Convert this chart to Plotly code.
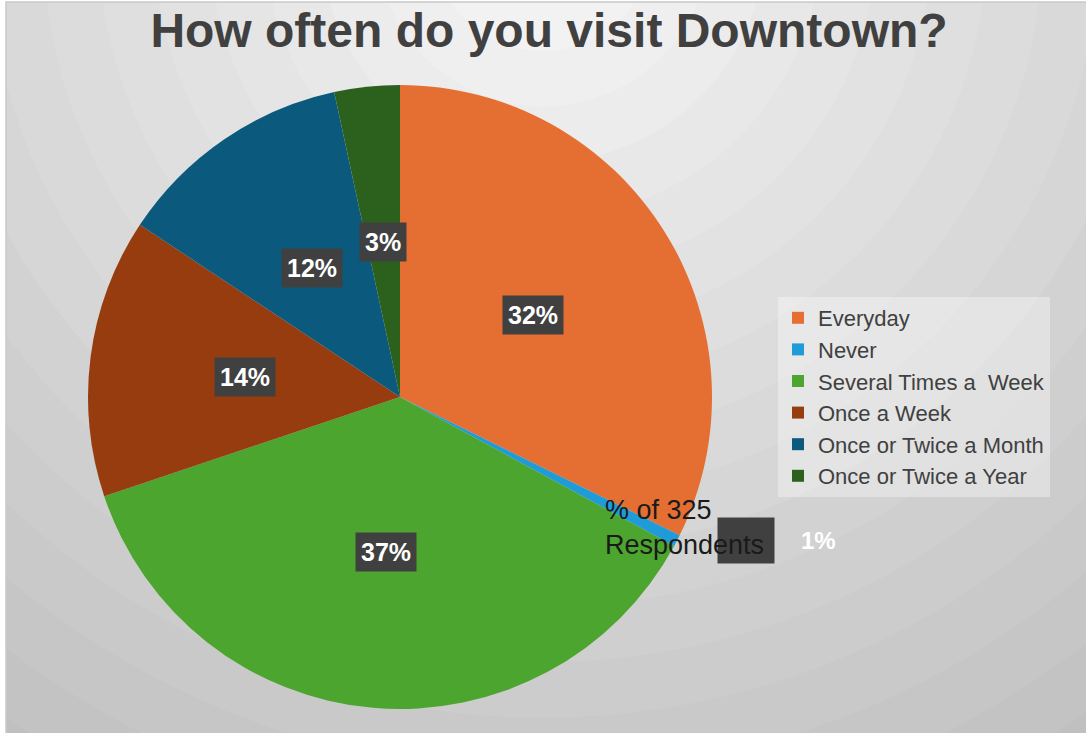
import math
import plotly.graph_objects as go

# ---- data ----
categories = ["Everyday", "Never", "Several Times a  Week", "Once a Week",
              "Once or Twice a Month", "Once or Twice a Year"]
counts = [105, 2, 120, 47, 40, 11]          # of 325 respondents
colors = ["#E56F32", "#1F9CD8", "#4CA52E", "#963C0F", "#0B5A7D", "#2B611C"]
title_text = "How often do you visit Downtown?"
series_name = "% of 325<br>Respondents"

W, H = 1086, 733
# pie geometry (pixels)
cx, cy, R = 400, 397, 312
dom_x = [(cx - R) / W, (cx + R) / W]
dom_y = [1 - (cy + R) / H, 1 - (cy - R) / H]

fig = go.Figure()
fig.add_trace(go.Pie(
    labels=categories, values=counts, sort=False, direction="clockwise",
    rotation=0, marker=dict(colors=colors, line=dict(width=0)),
    textinfo="none", hoverinfo="label+percent", domain=dict(x=dom_x, y=dom_y),
    showlegend=True,
))

# ---- background radial gradient ----
shapes = []
gx, gy = 543, -60
n_bands = 18
rmax = 1000
for i in range(n_bands, 0, -1):
    r = rmax * i / n_bands
    t = r / 960
    c = int(round(248 - t * (248 - 194)))
    c = max(min(c, 250), 190)
    shapes.append(dict(type="circle", layer="below",
                       xref="paper", yref="paper",
                       xsizemode="pixel", ysizemode="pixel",
                       xanchor=gx / W, yanchor=1 - gy / H,
                       x0=-r, x1=r, y0=-r, y1=r,
                       fillcolor=f"rgb({c},{c},{c})", line=dict(width=0)))
# white strip at left/top and frame
shapes.append(dict(type="rect", layer="below", xref="paper", yref="paper",
                   x0=0, x1=6 / W, y0=0, y1=1, fillcolor="white", line=dict(width=0)))
shapes.append(dict(type="rect", layer="below", xref="paper", yref="paper",
                   x0=0, x1=1, y0=1 - 2 / H, y1=1, fillcolor="white", line=dict(width=0)))
shapes.append(dict(type="rect", layer="below", xref="paper", yref="paper",
                   x0=6 / W, x1=1.01, y0=-0.01, y1=1 - 2 / H, fillcolor="rgba(0,0,0,0)",
                   line=dict(color="#C9C9C9", width=1.5)))

FONT = "Liberation Sans, Arial"

# ---- percentage labels (dark boxes) ----
total = sum(counts)
annotations = []
cum = 0
for cat, v in zip(categories, counts):
    mid = (cum + v / 2) / total * 2 * math.pi
    cum += v
    pct = f"{round(v / total * 100)}%"
    if v / total < 0.02:
        # small slice: outside box plus label text beside it
        ang = mid - math.radians(4.8)
        rr = 1.2 * R
        px = cx + rr * math.sin(ang)
        py = cy - rr * math.cos(ang)
        annotations.append(dict(x=px / W, y=1 - py / H, xref="paper", yref="paper",
                                xanchor="center", yanchor="middle",
                                text=" ", showarrow=False, width=54, height=43,
                                bgcolor="#404040", font=dict(size=10)))
        annotations.append(dict(x=(px + 73) / W, y=1 - py / H, xref="paper", yref="paper",
                                xanchor="center", yanchor="middle",
                                text=f"<b>{pct}</b>", showarrow=False,
                                font=dict(family=FONT, size=24, color="white")))
        annotations.append(dict(x=(px - 143) / W, y=1 - (py - 13) / H, xref="paper", yref="paper",
                                xanchor="left", yanchor="middle", align="left",
                                text=series_name, showarrow=False,
                                font=dict(family=FONT, size=27, color="#1A1A1A")))
    else:
        rr = 0.5 * R
        px = cx + rr * math.sin(mid)
        py = cy - rr * math.cos(mid)
        annotations.append(dict(x=px / W, y=1 - py / H, xref="paper", yref="paper",
                                xanchor="center", yanchor="middle",
                                text=f"<b>{pct}</b>", showarrow=False,
                                bgcolor="#404040", borderpad=5,
                                font=dict(family=FONT, size=25, color="white")))

fig.update_layout(
    width=W, height=H,
    margin=dict(l=0, r=0, t=0, b=0),
    paper_bgcolor="#C4C4C4",
    plot_bgcolor="rgba(0,0,0,0)",
    title=dict(text=f"<b>{title_text}</b>", x=0.5 + 6 / W, xanchor="center", xref="paper",
               y=1 - 30 / H, yanchor="middle", yref="paper",
               font=dict(family=FONT, size=48, color="#404040")),
    legend=dict(x=778 / W, y=1 - 397 / H, xanchor="left", yanchor="middle",
                bgcolor="rgba(255,255,255,0.35)", traceorder="normal",
                font=dict(family=FONT, size=22, color="#404040"),
                itemwidth=30, tracegroupgap=0),
    shapes=shapes,
    annotations=annotations,
)

fig.write_html("out.html", config={"displayModeBar": False},
               post_script="document.body.style.margin='0px';")
